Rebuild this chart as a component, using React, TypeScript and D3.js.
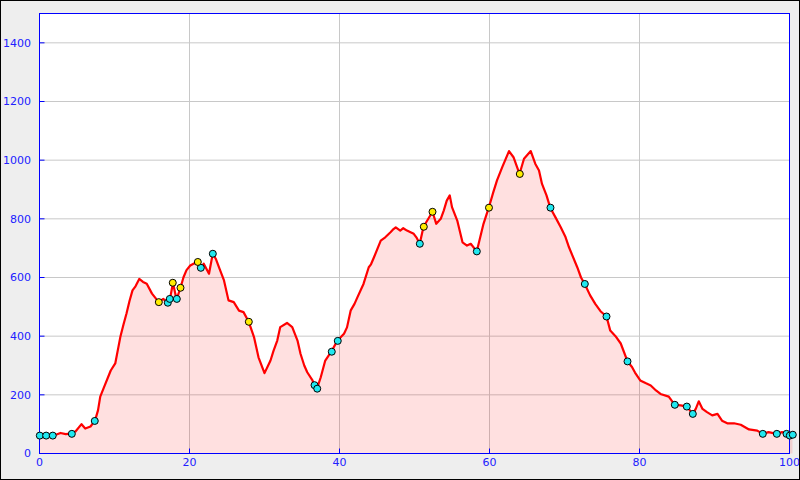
import React from "react";
import * as d3 from "d3";

const profileX = [0,1,2,2.8,3.5,4.1,4.8,5.6,6.1,6.8,7.4,7.8,8.1,8.7,9.5,10.1,10.5,10.8,11.2,11.6,12,12.4,12.8,13.3,13.8,14.3,15,15.9,16.5,17.1,17.4,17.8,18.1,18.3,18.8,19.2,19.6,20.1,20.6,21.1,21.5,21.9,22.6,23.1,23.5,24,24.6,25.2,25.9,26.6,27.2,27.9,28.6,29.2,30,30.8,31.2,31.7,32.1,33,33.7,34.4,34.8,35.3,35.7,36.4,36.7,37,37.5,38.1,38.9,39.7,40.6,41,41.5,42,42.4,43.2,43.9,44.2,44.6,45.5,46.1,46.8,47.2,47.5,48.1,48.5,49,49.4,49.9,50.3,50.7,51.2,52.4,52.9,53.5,53.9,54.3,54.7,55,55.7,56.4,57,57.5,58.3,58.6,59.2,59.9,60.5,61,61.7,62.6,63.2,64,64.6,65.5,66.1,66.6,67,67.6,68.1,68.8,69.5,70.1,70.6,71.7,72.2,72.7,73.4,74.1,74.8,75.6,76.1,76.8,77.5,78.4,79,79.4,80.1,80.8,81.5,82.2,82.8,83.9,84.7,85.5,86.3,87.1,87.5,87.9,88.4,89,89.7,90.4,91,91.7,92.6,93.5,94.6,95.7,96.4,97.2,98.3,99,99.6,100,100.4];
const profileY = [61,60,62,70,66,68,75,100,85,92,112,147,194,232,283,307,360,400,440,477,520,556,570,595,585,579,545,516,527,514,527,582,545,527,565,601,625,641,648,653,633,647,613,681,664,630,590,522,516,487,482,449,397,328,274,317,350,385,431,445,431,385,340,300,277,249,233,221,260,317,347,384,408,430,488,510,533,578,635,645,669,726,737,754,765,771,760,768,760,755,749,735,715,773,824,783,800,828,862,880,840,794,720,709,715,689,720,783,838,890,931,976,1031,1010,953,1005,1031,988,965,919,880,838,805,771,740,703,635,600,578,540,510,485,467,419,400,375,314,295,276,249,240,232,215,203,194,166,164,160,135,152,178,152,141,130,135,112,103,103,98,82,78,67,73,67,73,67,61,64];

const cyanX = [0.04,0.89,1.77,4.31,7.37,17.11,17.37,18.31,21.51,23.11,36.67,37.03,38.97,39.77,50.71,58.31,68.13,72.71,75.6,78.4,84.71,86.31,87.11,96.44,98.31,99.6,100.04,100.44];
const cyanY = [61,61,61,67,111,514,527,527,633,681,233,221,347,384,715,689,838,578,467,314,166,160,135,67,67,67,61,64];
const yellowX = [15.91,17.77,18.8,21.11,27.91,51.24,52.4,59.93,64.04];
const yellowY = [516,582,565,653,449,773,824,838,953];

const xTicks = [0,20,40,60,80,100];
const yTicks = [0,200,400,600,800,1000,1200,1400];

export default function App() {
  const W = 800, H = 480;
  const x = d3.scaleLinear().domain([0,100]).range([39.5,789.5]);
  const y = d3.scaleLinear().domain([0,1500]).range([453.5,13.5]);
  const pts: [number,number][] = profileX.map((v,i)=>[v,profileY[i]]);
  const line = d3.line<[number,number]>().x(d=>x(d[0])).y(d=>y(d[1]));
  const area = d3.area<[number,number]>().x(d=>x(d[0])).y0(y(0)).y1(d=>y(d[1]));
  const font = "'DejaVu Sans', sans-serif";
  return (
    <svg width={W} height={H} style={{position:"absolute",left:0,top:0}} xmlns="http://www.w3.org/2000/svg">
      <rect x={0.5} y={0.5} width={W-1} height={H-1} fill="#eeeeee" stroke="#000" />
      <rect x={39.5} y={13.5} width={750} height={440} fill="#fff" />
      {xTicks.filter(t=>t>0&&t<100).map(t=>(
        <line key={"gx"+t} x1={x(t)} x2={x(t)} y1={13.5} y2={453.5} stroke="#c8c8c8" />
      ))}
      {yTicks.filter(t=>t>0).map(t=>(
        <line key={"gy"+t} x1={39.5} x2={789.5} y1={y(t)} y2={y(t)} stroke="#c8c8c8" />
      ))}
      <path d={area(pts)!} fill="rgba(255,0,0,0.12)" />
      <path d={line(pts)!} fill="none" stroke="#ff0000" strokeWidth={2.2} strokeLinejoin="round" />
      <rect x={39.5} y={13.5} width={750} height={440} fill="none" stroke="#0000ff" />
      {yTicks.map(t=>(
        <g key={"ty"+t}>
          <line x1={39.5} x2={44.5} y1={y(t)} y2={y(t)} stroke="#0000ff" />
          <text x={31} y={y(t)} dy="0.35em" textAnchor="end" fontFamily={font} fontSize={11} fill="#2020ff">{t}</text>
        </g>
      ))}
      {xTicks.map(t=>(
        <g key={"tx"+t}>
          <line x1={x(t)} x2={x(t)} y1={448.5} y2={453.5} stroke="#0000ff" />
          <text x={x(t)} y={466} textAnchor="middle" fontFamily={font} fontSize={11} fill="#2020ff">{t}</text>
        </g>
      ))}
      {cyanX.map((v,i)=>(
        <circle key={"c"+i} cx={x(v)} cy={y(cyanY[i])} r={3.5} fill="#20e8f0" stroke="#000" strokeWidth={1} />
      ))}
      {yellowX.map((v,i)=>(
        <circle key={"yw"+i} cx={x(v)} cy={y(yellowY[i])} r={3.5} fill="#ffee00" stroke="#000" strokeWidth={1} />
      ))}
    </svg>
  );
}
